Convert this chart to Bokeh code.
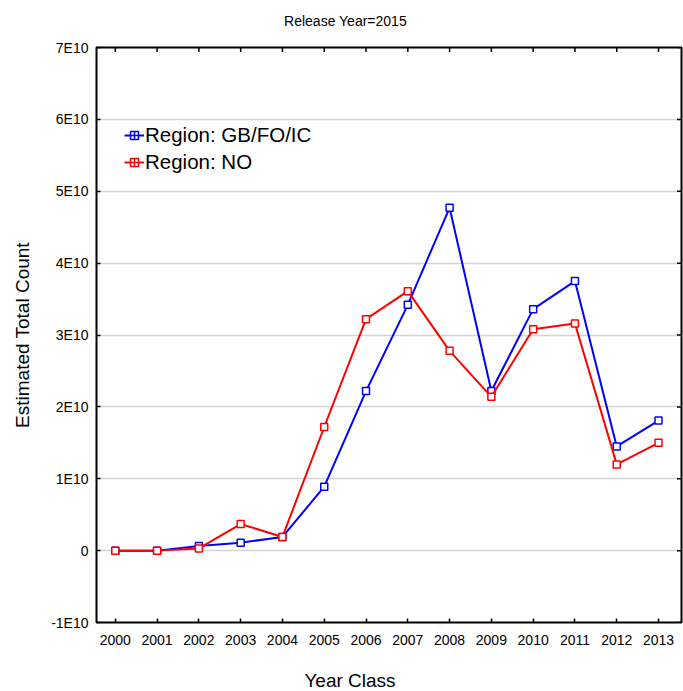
import math
from bokeh.plotting import figure
from bokeh.models import Range1d, FixedTicker, Legend, LegendItem, Label
from bokeh.embed import file_html
from bokeh.resources import INLINE

title_text = "Release Year=2015"
x_label = "Year Class"
y_label = "Estimated Total Count"

year_class = [2000, 2001, 2002, 2003, 2004, 2005, 2006, 2007, 2008, 2009, 2010, 2011, 2012, 2013]
gb_fo_ic = [0.0, 0.0, 0.065e10, 0.11e10, 0.19e10, 0.89e10, 2.22e10, 3.42e10, 4.77e10,
            2.22e10, 3.36e10, 3.75e10, 1.45e10, 1.81e10]
no = [0.0, 0.0, 0.03e10, 0.37e10, 0.19e10, 1.72e10, 3.22e10, 3.61e10, 2.78e10,
      2.14e10, 3.08e10, 3.16e10, 1.20e10, 1.50e10]

series_names = ["Region: GB/FO/IC", "Region: NO"]
series_colors = ["#0000ff", "#ff0000"]

y_tick_values = [-1e10, 0.0, 1e10, 2e10, 3e10, 4e10, 5e10, 6e10, 7e10]
y_tick_labels = ["-1E10", "0", "1E10", "2E10", "3E10", "4E10", "5E10", "6E10", "7E10"]

x_start, x_end = 1999.55, 2013.55
y_start, y_end = y_tick_values[0], y_tick_values[-1]

FONT = "Liberation Sans"

W, H = 683, 691
B_LEFT, B_RIGHT, B_TOP, B_BOTTOM = 96, 2, 47, 69
frame_w = W - B_LEFT - B_RIGHT
frame_h = H - B_TOP - B_BOTTOM


def x_at(px_from_left):
    return x_start + px_from_left / frame_w * (x_end - x_start)


def y_at(px_from_bottom):
    return y_start + px_from_bottom / frame_h * (y_end - y_start)


p = figure(width=W, height=H,
           x_range=Range1d(x_start, x_end), y_range=Range1d(y_start, y_end),
           output_backend="svg", toolbar_location=None,
           min_border_left=B_LEFT, min_border_right=B_RIGHT,
           min_border_top=B_TOP, min_border_bottom=B_BOTTOM)

p.outline_line_color = "black"
p.outline_line_width = 2
p.background_fill_color = "white"
p.border_fill_color = "white"

p.xgrid.visible = False
p.ygrid.grid_line_color = "#d4d4d4"
p.ygrid.grid_line_width = 1.5
p.ygrid.ticker = FixedTicker(ticks=y_tick_values)

xa = p.xaxis[0]
xa.ticker = FixedTicker(ticks=year_class)
xa.major_label_overrides = {y: str(y) for y in year_class}
xa.major_label_standoff = 12

ya = p.yaxis[0]
ya.ticker = FixedTicker(ticks=y_tick_values)
ya.major_label_overrides = dict(zip(y_tick_values, y_tick_labels))
ya.axis_label = y_label
ya.axis_label_standoff = 15
ya.major_label_standoff = 8
ya.axis_label_text_font_size = "19px"

for ax in [xa, ya]:
    ax.axis_line_color = None
    ax.major_tick_in = 4
    ax.major_tick_out = 0
    ax.major_tick_line_color = "black"
    ax.major_tick_line_width = 1.5
    ax.minor_tick_line_color = None
    ax.major_label_text_font = FONT
    ax.major_label_text_font_size = "14px"
    ax.major_label_text_color = "black"
    ax.axis_label_text_font = FONT
    ax.axis_label_text_font_style = "normal"
    ax.axis_label_text_color = "black"

# chart title and x-axis title, placed off-centre as in the reference
p.add_layout(Label(x=x_at(249), y=y_at(frame_h + 27), text=title_text,
                   text_font=FONT, text_font_size="14px", text_color="black",
                   text_align="center", text_baseline="middle"), "above")
p.add_layout(Label(x=x_at(253.5), y=y_at(-58), text=x_label,
                   text_font=FONT, text_font_size="19px", text_color="black",
                   text_align="center", text_baseline="middle"), "below")

# inward tick marks on the top and right edges of the frame
p.scatter(year_class, [y_end] * len(year_class), marker="dash", angle=math.pi / 2,
          size=9, line_color="black", line_width=1.5)
p.scatter([x_end] * len(y_tick_values), y_tick_values, marker="dash",
          size=9, line_color="black", line_width=1.5)

items = []
for vals, name, color in zip([gb_fo_ic, no], series_names, series_colors):
    ln = p.line(year_class, vals, line_color=color, line_width=2)
    p.scatter(year_class, vals, marker="square", size=7, line_color=color,
              fill_color="white", line_width=1.5)
    lg = p.scatter(year_class, vals, marker="square_cross", size=8, line_color=color,
                   fill_color="white", line_width=1.5, visible=False)
    items.append(LegendItem(label=name, renderers=[ln, lg]))

legend = Legend(items=items, location=(28, 447))
legend.padding = 0
legend.margin = 0
legend.spacing = 1
legend.glyph_width = 20
legend.glyph_height = 26
legend.label_height = 26
legend.label_standoff = 1
legend.label_text_font = FONT
legend.label_text_font_size = "20.5px"
legend.label_text_color = "black"
legend.background_fill_alpha = 0
legend.border_line_color = None
p.add_layout(legend)

open("out.html", "w").write(file_html(p, INLINE))
